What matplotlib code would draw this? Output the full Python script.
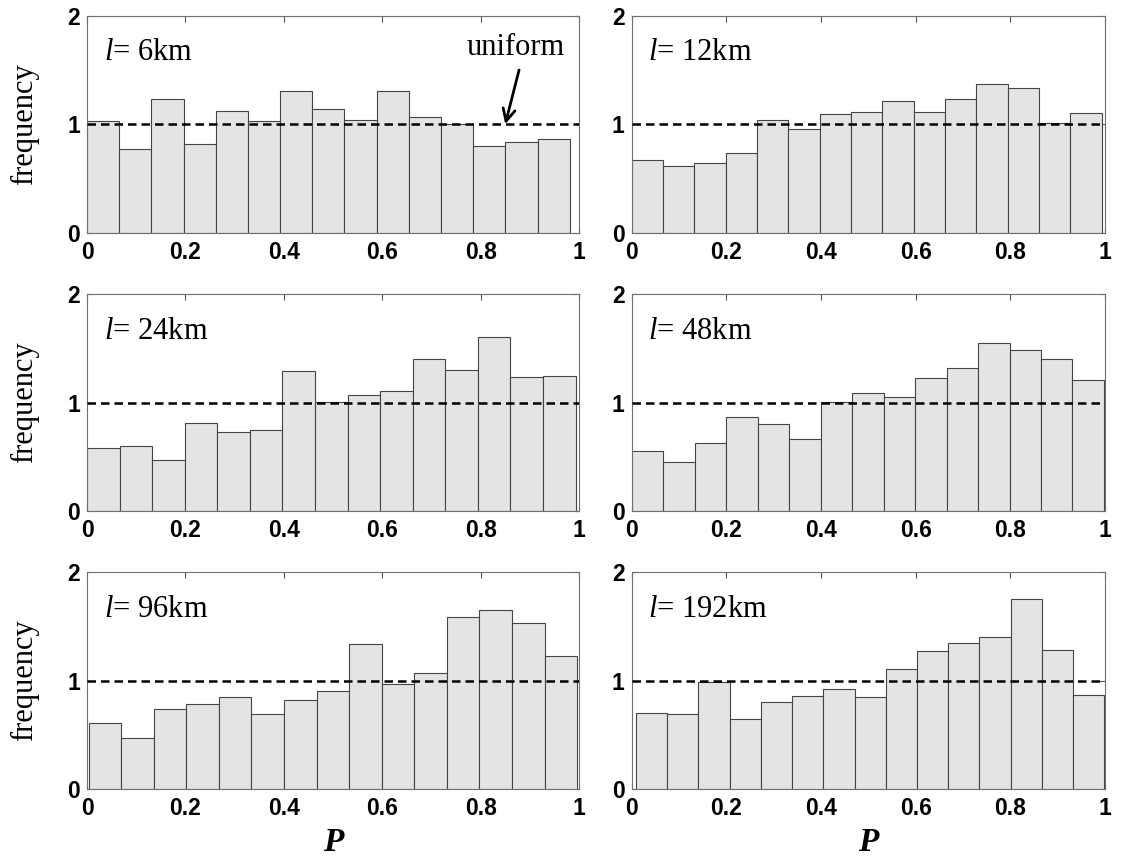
import numpy as np
import matplotlib
matplotlib.use("Agg")
import matplotlib.pyplot as plt

plt.rcParams["mathtext.fontset"] = "custom"
plt.rcParams["mathtext.rm"] = "Liberation Serif"
plt.rcParams["mathtext.it"] = "Liberation Serif:italic"

# Correlation lengths of each panel
scales_km = [6, 12, 24, 48, 96, 192]

# Range of P covered by the 15 histogram bins in each panel
p_ranges = [
    (0.0, 0.981),
    (0.0, 0.993),
    (0.0, 0.993),
    (0.0, 0.998),
    (0.003, 0.996),
    (0.009, 0.999),
]

# Normalised frequencies (15 bins per panel)
freq_6km = [1.03, 0.77, 1.23, 0.82, 1.12, 1.03, 1.31, 1.14, 1.04, 1.31,
            1.07, 1.00, 0.80, 0.84, 0.86]
freq_12km = [0.67, 0.61, 0.64, 0.73, 1.04, 0.96, 1.09, 1.11, 1.21, 1.11,
             1.23, 1.37, 1.33, 1.01, 1.10]
freq_24km = [0.58, 0.60, 0.47, 0.81, 0.73, 0.75, 1.29, 1.01, 1.07, 1.11,
             1.40, 1.30, 1.61, 1.24, 1.25]
freq_48km = [0.55, 0.45, 0.63, 0.87, 0.80, 0.66, 1.01, 1.09, 1.05, 1.23,
             1.32, 1.55, 1.49, 1.40, 1.21]
freq_96km = [0.61, 0.47, 0.74, 0.78, 0.85, 0.69, 0.82, 0.90, 1.34, 0.97,
             1.07, 1.59, 1.65, 1.53, 1.23]
freq_192km = [0.70, 0.69, 0.99, 0.65, 0.80, 0.86, 0.92, 0.85, 1.11, 1.27,
              1.35, 1.40, 1.75, 1.28, 0.87]

frequencies = [freq_6km, freq_12km, freq_24km, freq_48km, freq_96km, freq_192km]

uniform_level = 1.0
x_ticks = [0, 0.2, 0.4, 0.6, 0.8, 1]
x_ticklabels = ["0", "0.2", "0.4", "0.6", "0.8", "1"]
y_ticks = [0, 1, 2]
y_ticklabels = ["0", "1", "2"]

fig = plt.figure(figsize=(11.35, 8.58), dpi=100)

col_left = [0.0767, 0.5565]
col_width = [0.4335, 0.4170]
row_bottom = [0.7290, 0.4045, 0.0805]
row_height = 0.2525

tick_font = dict(family="Liberation Sans", weight="bold", size=16.5)
serif = "Liberation Serif"

for i, (scale, freq, (lo, hi)) in enumerate(zip(scales_km, frequencies, p_ranges)):
    r, c = divmod(i, 2)
    ax = fig.add_axes([col_left[c], row_bottom[r], col_width[c], row_height])

    edges = np.linspace(lo, hi, len(freq) + 1)
    ax.bar(edges[:-1], freq, width=np.diff(edges), align="edge",
           color="#e4e4e4", edgecolor="#444444", linewidth=0.8, zorder=2)
    ax.axhline(uniform_level, color="black", linewidth=1.8,
               linestyle=(0, (3.4, 2.0)), zorder=3)

    ax.set_xlim(0, 1)
    ax.set_ylim(0, 2)
    ax.set_xticks(x_ticks)
    ax.set_xticklabels(x_ticklabels, fontdict=tick_font)
    ax.set_yticks(y_ticks)
    ax.set_yticklabels(y_ticklabels, fontdict=tick_font)
    ax.tick_params(axis="x", direction="in", length=4, width=0.8,
                   color="#555555", top=True, pad=6)
    ax.tick_params(axis="y", direction="in", length=4, width=0.8,
                   color="#555555", right=True, pad=5)
    for sp in ax.spines.values():
        sp.set_color("#707070")
        sp.set_linewidth(0.8)

    ax.text(0.035, 0.795, rf"$l$= {scale}km", transform=ax.transAxes,
            family=serif, fontsize=22, ha="left", va="baseline", zorder=4)

    if c == 0:
        ax.set_ylabel("frequency", family=serif, fontsize=22)
        ax.yaxis.set_label_coords(-0.098, 0.5)
    if r == 2:
        ax.set_xlabel("P", family=serif, fontstyle="italic", fontweight="bold",
                      fontsize=24, labelpad=5)

    if i == 0:
        ax.annotate("uniform", xy=(0.85, uniform_level), xytext=(0.97, 1.64),
                    family=serif, fontsize=22, ha="right", va="baseline",
                    arrowprops=dict(arrowstyle="->", color="black", lw=2,
                                    mutation_scale=22, shrinkA=4, shrinkB=0,
                                    relpos=(0.56, 0.0)),
                    zorder=5)

fig.savefig("out.png", dpi=100)
